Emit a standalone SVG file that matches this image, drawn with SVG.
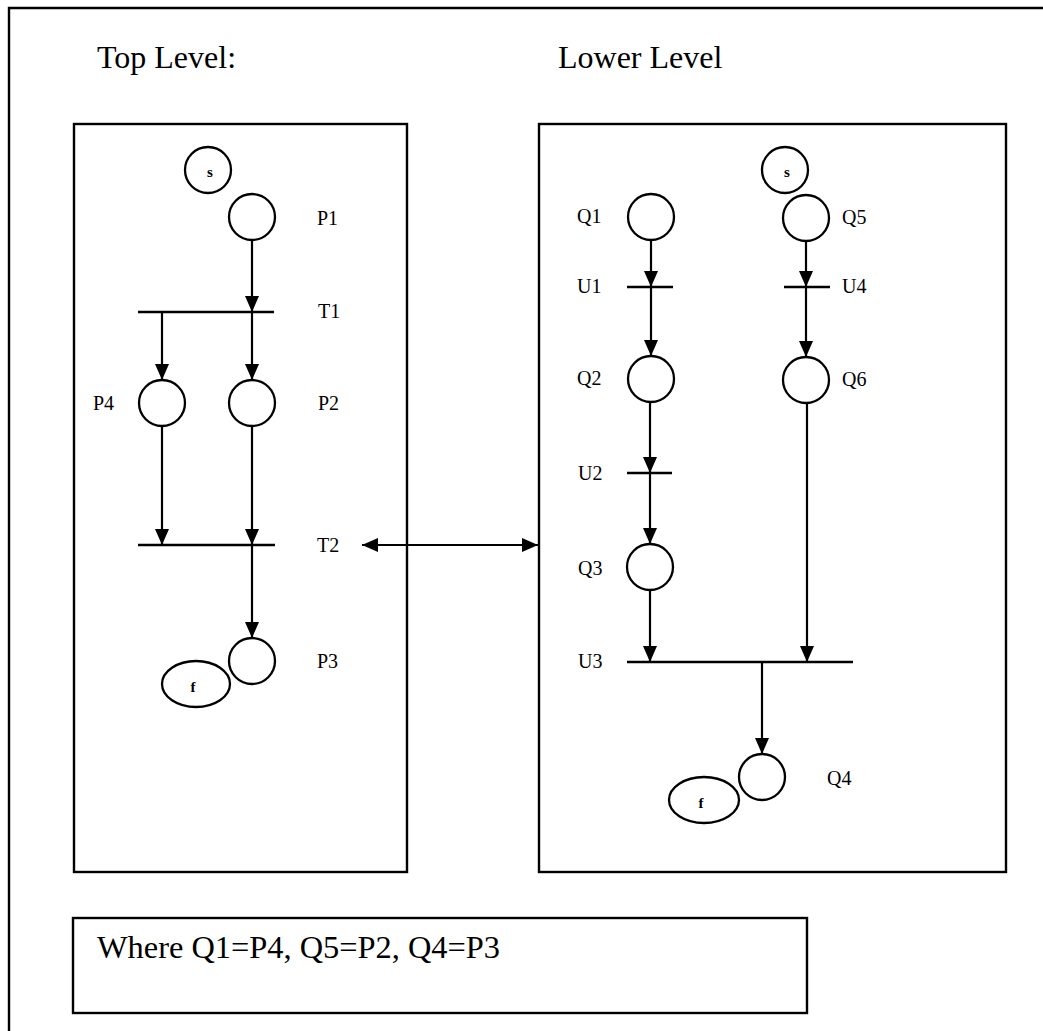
<svg xmlns="http://www.w3.org/2000/svg" width="1043" height="1031" viewBox="0 0 1043 1031">
<style>
.frame{fill:none;stroke:#000;stroke-width:2.4}
.place{fill:#fff;stroke:#000;stroke-width:2.3}
.bar{stroke:#000;stroke-width:2.5;fill:none}
.arc{stroke:#000;stroke-width:2.2;fill:none}
.lbl{font-family:"Liberation Serif","Times New Roman",serif;font-size:20px;fill:#000}
.title{font-family:"Liberation Serif","Times New Roman",serif;font-size:32px;fill:#000}
.tok{font-family:"Liberation Serif","Times New Roman",serif;font-size:15px;font-weight:bold;fill:#000;text-anchor:middle}
</style>
<defs>
<marker id="ah" markerUnits="userSpaceOnUse" markerWidth="16" markerHeight="14" viewBox="0 0 16 14" refX="16" refY="7" orient="auto">
<path d="M0,0 L16,7 L0,14 z" fill="#000"/>
</marker>
<marker id="ahs" markerUnits="userSpaceOnUse" markerWidth="16" markerHeight="14" viewBox="0 0 16 14" refX="0" refY="7" orient="auto">
<path d="M16,0 L0,7 L16,14 z" fill="#000"/>
</marker>
</defs>
<rect width="1043" height="1031" fill="#fff"/>
<g id="outer-frame"><path class="frame" d="M9,1031 V8 H1043"/></g>
<g id="titles">
<text class="title" x="97" y="68">Top Level:</text>
<text class="title" x="558" y="68">Lower Level</text>
</g>
<g id="top-box"><rect class="frame" x="74" y="124" width="333" height="748"/></g>
<g id="lower-box"><rect class="frame" x="539" y="124" width="467" height="748"/></g>
<g id="note-box"><rect class="frame" x="73" y="918" width="734" height="95"/>
<text class="title" x="97" y="958" textLength="403" lengthAdjust="spacingAndGlyphs">Where Q1=P4, Q5=P2, Q4=P3</text></g>

<g id="connectors">
<line class="arc" x1="252" y1="240" x2="252" y2="312" marker-end="url(#ah)"/>
<line class="arc" x1="162" y1="312" x2="162" y2="380" marker-end="url(#ah)"/>
<line class="arc" x1="252" y1="312" x2="252" y2="380" marker-end="url(#ah)"/>
<line class="arc" x1="162" y1="426" x2="162" y2="545" marker-end="url(#ah)"/>
<line class="arc" x1="252" y1="426" x2="252" y2="545" marker-end="url(#ah)"/>
<line class="arc" x1="252" y1="545" x2="252" y2="638" marker-end="url(#ah)"/>
<line class="arc" x1="362" y1="545" x2="538" y2="545" marker-start="url(#ahs)" marker-end="url(#ah)"/>
<line class="arc" x1="651" y1="240" x2="651" y2="287" marker-end="url(#ah)"/>
<line class="arc" x1="651" y1="287" x2="651" y2="356" marker-end="url(#ah)"/>
<line class="arc" x1="806" y1="241" x2="806" y2="287" marker-end="url(#ah)"/>
<line class="arc" x1="806" y1="287" x2="806" y2="357" marker-end="url(#ah)"/>
<line class="arc" x1="650" y1="402" x2="650" y2="473" marker-end="url(#ah)"/>
<line class="arc" x1="650" y1="473" x2="650" y2="544" marker-end="url(#ah)"/>
<line class="arc" x1="650" y1="590" x2="650" y2="662" marker-end="url(#ah)"/>
<line class="arc" x1="807" y1="403" x2="807" y2="662" marker-end="url(#ah)"/>
<line class="arc" x1="762" y1="662" x2="762" y2="754" marker-end="url(#ah)"/>
</g>

<g id="s-top"><circle class="place" cx="208" cy="170" r="23"/><text class="tok" x="210" y="177">s</text></g>
<g id="P1"><circle class="place" cx="252" cy="217" r="23"/><text class="lbl" x="317" y="225">P1</text></g>
<g id="T1"><line class="bar" x1="138" y1="312" x2="274" y2="312"/><text class="lbl" x="318" y="318">T1</text></g>
<g id="P4"><circle class="place" cx="162" cy="403" r="23"/><text class="lbl" x="93" y="410">P4</text></g>
<g id="P2"><circle class="place" cx="252" cy="403" r="23"/><text class="lbl" x="318" y="410">P2</text></g>
<g id="T2"><line class="bar" x1="138" y1="545" x2="275" y2="545"/><text class="lbl" x="317" y="552">T2</text></g>
<g id="P3"><circle class="place" cx="252" cy="661" r="23"/><text class="lbl" x="317" y="668">P3</text></g>
<g id="f-top"><ellipse class="place" cx="196" cy="684" rx="34" ry="23"/><text class="tok" x="193" y="692">f</text></g>

<g id="s-lower"><circle class="place" cx="785" cy="170" r="23"/><text class="tok" x="787" y="177">s</text></g>
<g id="Q1"><circle class="place" cx="651" cy="217" r="23"/><text class="lbl" x="577" y="223">Q1</text></g>
<g id="Q5"><circle class="place" cx="806" cy="218" r="23"/><text class="lbl" x="842" y="224">Q5</text></g>
<g id="U1"><line class="bar" x1="627" y1="287" x2="673" y2="287"/><text class="lbl" x="577" y="293">U1</text></g>
<g id="U4"><line class="bar" x1="784" y1="287" x2="830" y2="287"/><text class="lbl" x="842" y="293">U4</text></g>
<g id="Q2"><circle class="place" cx="651" cy="379" r="23"/><text class="lbl" x="577" y="385">Q2</text></g>
<g id="Q6"><circle class="place" cx="806" cy="380" r="23"/><text class="lbl" x="842" y="386">Q6</text></g>
<g id="U2"><line class="bar" x1="627" y1="473" x2="672" y2="473"/><text class="lbl" x="578" y="480">U2</text></g>
<g id="Q3"><circle class="place" cx="650" cy="567" r="23"/><text class="lbl" x="578" y="575">Q3</text></g>
<g id="U3"><line class="bar" x1="627" y1="662" x2="853" y2="662"/><text class="lbl" x="578" y="668">U3</text></g>
<g id="Q4"><circle class="place" cx="762" cy="777" r="23"/><text class="lbl" x="827" y="785">Q4</text></g>
<g id="f-lower"><ellipse class="place" cx="704" cy="800" rx="35" ry="23"/><text class="tok" x="701" y="808">f</text></g>
</svg>
